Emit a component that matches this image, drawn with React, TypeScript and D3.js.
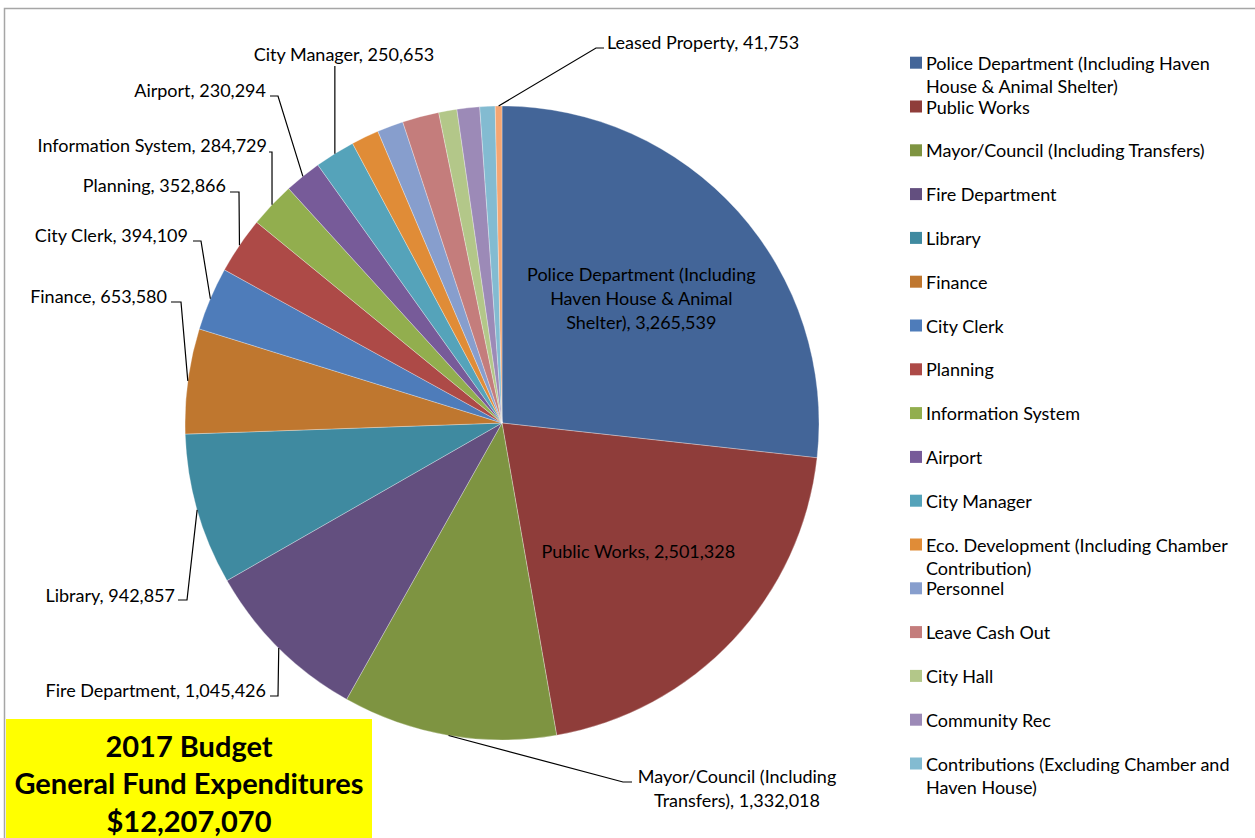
import React from 'react';
import * as d3 from 'd3';

// ---------- data ----------
const categories = [
  'Police Department (Including Haven House & Animal Shelter)',
  'Public Works',
  'Mayor/Council (Including Transfers)',
  'Fire Department',
  'Library',
  'Finance',
  'City Clerk',
  'Planning',
  'Information System',
  'Airport',
  'City Manager',
  'Eco. Development (Including Chamber Contribution)',
  'Personnel',
  'Leave Cash Out',
  'City Hall',
  'Community Rec',
  'Contributions (Excluding Chamber and Haven House)',
  'Leased Property',
];

const values = [
  3265539, 2501328, 1332018, 1045426, 942857, 653580, 394109, 352866, 284729,
  230294, 250653, 172000, 163000, 228000, 113000, 141000, 94918, 41753,
];

const colors = [
  '#436598', '#8f3d3a', '#7e9441', '#634f7f', '#3f8aa0', '#bf772f',
  '#4e7cba', '#ad4a47', '#92ae4e', '#775b99', '#55a3ba', '#e08c37',
  '#879ecd', '#c47d7c', '#b3c789', '#9c8ab7', '#83bbd1', '#f4a673',
];

// legend shows the first 17 entries (wrapped as in the original)
const legendLines: string[][] = [
  ['Police Department (Including Haven', 'House & Animal Shelter)'],
  ['Public Works'],
  ['Mayor/Council (Including Transfers)'],
  ['Fire Department'],
  ['Library'],
  ['Finance'],
  ['City Clerk'],
  ['Planning'],
  ['Information System'],
  ['Airport'],
  ['City Manager'],
  ['Eco. Development (Including Chamber', 'Contribution)'],
  ['Personnel'],
  ['Leave Cash Out'],
  ['City Hall'],
  ['Community Rec'],
  ['Contributions (Excluding Chamber and', 'Haven House)'],
];

const titleLines = ['2017 Budget', 'General Fund Expenditures', '$12,207,070'];

// ---------- layout ----------
const W = 1255;
const H = 838;
const cx = 502;
const cy = 423;
const R = 317;
const FONT = 'Lato, Calibri, sans-serif';
const FS = 18;

type Lab = {
  lines: string[];
  x: number;
  y: number; // centre of first line
  anchor: 'start' | 'end' | 'middle';
  inside?: boolean;
  bend?: [number, number][];
};

const fmt = d3.format(',');

const labelLayout: Record<number, Omit<Lab, 'lines'> & { lines?: string[] }> = {
  0: { x: 0, y: 0, anchor: 'middle', inside: true, lines: ['Police Department (Including', 'Haven House & Animal', `Shelter), ${fmt(values[0])}`] },
  1: { x: 0, y: 0, anchor: 'middle', inside: true },
  2: { x: 737, y: 776, anchor: 'middle', lines: ['Mayor/Council (Including', `Transfers), ${fmt(values[2])}`], bend: [[623, 782], [632, 782]] },
  3: { x: 266, y: 690, anchor: 'end', bend: [[278, 696], [270, 696]] },
  4: { x: 175, y: 595, anchor: 'end', bend: [[187, 600], [178, 600]] },
  5: { x: 167, y: 296, anchor: 'end', bend: [[181, 302], [171, 302]] },
  6: { x: 188, y: 235, anchor: 'end', bend: [[201, 241], [193, 241]] },
  7: { x: 226, y: 185, anchor: 'end', bend: [[239, 192], [230, 192]] },
  8: { x: 267, y: 145, anchor: 'end', bend: [[272, 152], [269, 152]] },
  9: { x: 266, y: 90, anchor: 'end', bend: [[278, 96], [270, 96]] },
  10: { x: 344, y: 54, anchor: 'middle', bend: [[335, 66]] },
  17: { x: 607, y: 42, anchor: 'start', bend: [[596, 48], [604, 48]] },
};

const shortNames: Record<number, string> = {
  1: 'Public Works',
  3: 'Fire Department',
  4: 'Library',
  5: 'Finance',
  6: 'City Clerk',
  7: 'Planning',
  8: 'Information System',
  9: 'Airport',
  10: 'City Manager',
  17: 'Leased Property',
};

export default function App() {
  const pie = d3
    .pie<number>()
    .sort(null)
    .value((d) => d)
    .startAngle(0)
    .endAngle(2 * Math.PI);
  const arcs = pie(values);
  const arc = d3.arc<d3.PieArcDatum<number>>().innerRadius(0).outerRadius(R);
  const rimArc = d3.arc<d3.PieArcDatum<number>>().innerRadius(R).outerRadius(R);
  const innerLabelArc = d3.arc<d3.PieArcDatum<number>>().innerRadius(R * 0.59).outerRadius(R * 0.59);

  const line = d3.line();
  const lineH = 24;
  const legendY0 = 62.7;
  const legendStep = 43.8;

  return (
    <svg
      width={W}
      height={H}
      viewBox={`0 0 ${W} ${H}`}
      style={{ position: 'absolute', left: 0, top: 0, display: 'block', background: '#fff' }}
      fontFamily={FONT}
    >
      <rect x={0} y={0} width={W} height={H} fill="#fff" />
      {/* chart border */}
      <path d={`M4.5,${H} V8.5 H${W}`} fill="none" stroke="#a6a6a6" strokeWidth={1.5} />

      <g transform={`translate(${cx},${cy})`}>
        {arcs.map((a, i) => (
          <path key={i} d={arc(a) || ''} fill={colors[i]} stroke="#ffffff" strokeOpacity={0.5} strokeWidth={0.6} />
        ))}
      </g>

      {/* data labels */}
      {arcs.map((a, i) => {
        const lay = labelLayout[i];
        if (!lay) return null;
        const lines = lay.lines || [`${shortNames[i]}, ${fmt(values[i])}`];
        let x = lay.x;
        let y = lay.y;
        if (lay.inside) {
          const [lx, ly] = innerLabelArc.centroid(a);
          x = cx + lx;
          y = cy + ly - ((lines.length - 1) * lineH) / 2;
        }
        let leader = null;
        if (lay.bend) {
          const [rx, ry] = rimArc.centroid(a);
          const pts: [number, number][] = [[cx + rx, cy + ry]];
          lay.bend.forEach((p) => {
            if (lay.bend!.length === 1) pts.push([cx + rx, p[1]]);
            else pts.push(p);
          });
          leader = <path d={line(pts) || ''} fill="none" stroke="#000" strokeWidth={1.2} />;
        }
        return (
          <g key={`l${i}`}>
            {leader}
            <text x={x} y={y} textAnchor={lay.anchor} fontSize={FS} fill="#000" dominantBaseline="central">
              {lines.map((t, k) => (
                <tspan key={k} x={x} y={y + k * lineH}>
                  {t}
                </tspan>
              ))}
            </text>
          </g>
        );
      })}

      {/* legend */}
      {legendLines.map((ls, i) => {
        const y = legendY0 + i * legendStep;
        return (
          <g key={`lg${i}`}>
            <rect x={910} y={y - 6} width={12} height={12} fill={colors[i]} />
            <text x={926} y={y} fontSize={FS} fill="#000" dominantBaseline="central">
              {ls.map((t, k) => (
                <tspan key={k} x={926} y={y + k * 23.5}>
                  {t}
                </tspan>
              ))}
            </text>
          </g>
        );
      })}

      {/* title box */}
      <rect x={6} y={719} width={366} height={H - 719} fill="#ffff00" />
      {titleLines.map((t, i) => (
        <text
          key={`t${i}`}
          x={189}
          y={745 + i * 37.5}
          textAnchor="middle"
          dominantBaseline="central"
          fontSize={29}
          fontWeight={700}
          fill="#000"
        >
          {t}
        </text>
      ))}
    </svg>
  );
}
